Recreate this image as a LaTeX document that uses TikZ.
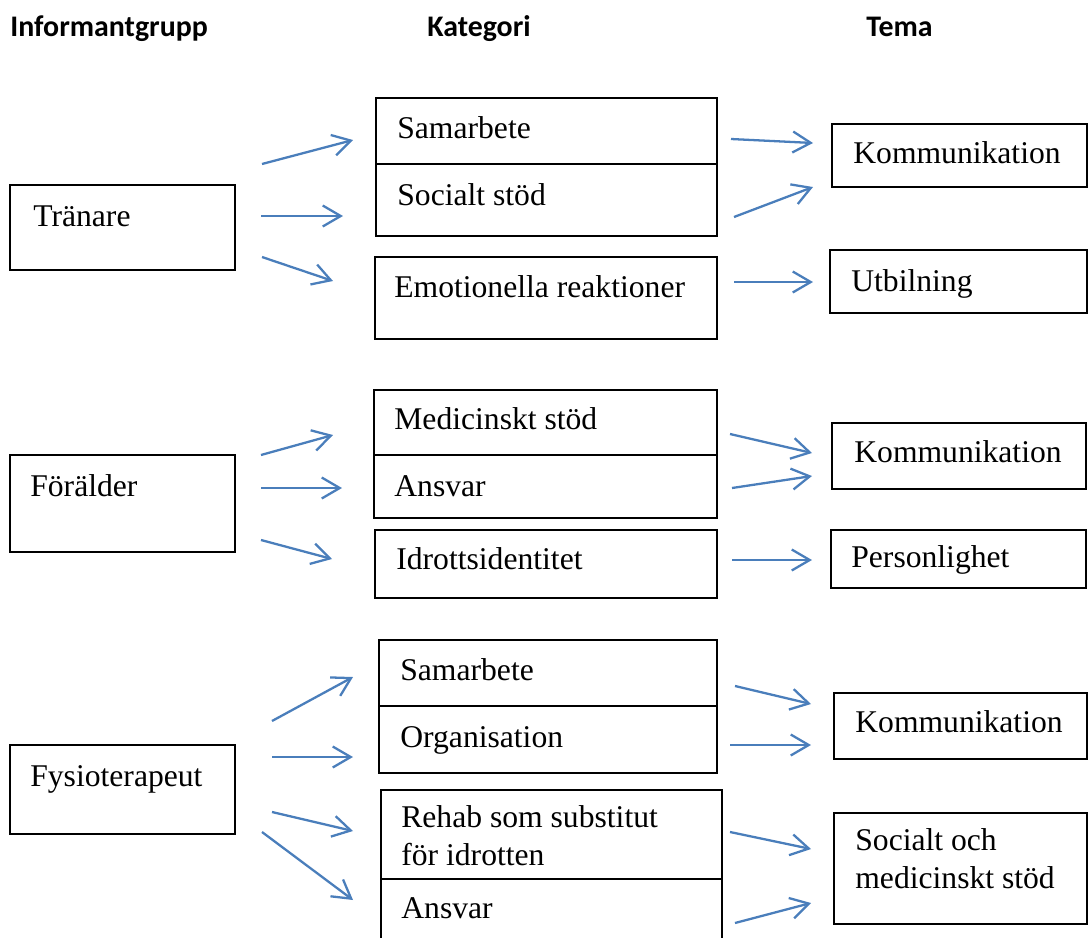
\documentclass[tikz,border=0pt]{standalone}
\usepackage{fontspec}
\setmainfont{Liberation Serif}
\newfontfamily\headfont{Carlito}
\usetikzlibrary{arrows.meta}
\definecolor{arrowblue}{RGB}{74,126,187}
\tikzset{%
	box/.style   = {draw, rectangle, line width=1.1pt, anchor=north west, inner sep=0pt}, % frame
	txt/.style   = {anchor=base west, inner sep=0pt, align=left, font=\fontsize{18}{21.5}\selectfont}, % text in frame
	head/.style  = {anchor=base west, inner sep=0pt, font=\headfont\bfseries\fontsize{17}{20}\selectfont}, % column heading
	arrow/.style = {arrowblue, line width=1.3pt, -{Straight Barb[length=0.36cm,width=0.42cm]}},
}

\begin{document}
\begin{tikzpicture}[x=0.02cm,y=-0.02cm]
	\clip (0,0) rectangle (1089,937);

	\node [head] (hinf) at (10,36) {Informantgrupp};
	\node [head] (hkat) at (427,36) {Kategori};
	\node [head] (htema) at (866,36) {Tema};

	% Tränare
	\node [box, minimum width=4.5cm, minimum height=1.7cm] (tr) at (9,184) {};
	\node [txt] (trt) at (33,226) {Tränare};
	\node [box, minimum width=6.82cm, minimum height=1.32cm] (tr1) at (375,97) {};
	\node [txt] (tr1t) at (397,138) {Samarbete};
	\node [box, minimum width=6.82cm, minimum height=1.44cm] (tr2) at (375,163) {};
	\node [txt] (tr2t) at (397,205) {Socialt stöd};
	\node [box, minimum width=6.84cm, minimum height=1.64cm] (tr3) at (374,256) {};
	\node [txt] (tr3t) at (394,297) {Emotionella reaktioner};
	\node [box, minimum width=5.1cm, minimum height=1.26cm] (trk) at (831,123) {};
	\node [txt] (trkt) at (853,163) {Kommunikation};
	\node [box, minimum width=5.14cm, minimum height=1.26cm] (tru) at (829,249) {};
	\node [txt] (trut) at (851,291) {Utbilning};

	% Förälder
	\node [box, minimum width=4.5cm, minimum height=1.94cm] (fo) at (9,454) {};
	\node [txt] (fot) at (30,496) {Förälder};
	\node [box, minimum width=6.86cm, minimum height=1.3cm] (fo1) at (373,389) {};
	\node [txt] (fo1t) at (394,429) {Medicinskt stöd};
	\node [box, minimum width=6.86cm, minimum height=1.26cm] (fo2) at (373,454) {};
	\node [txt] (fo2t) at (394,496) {Ansvar};
	\node [box, minimum width=6.84cm, minimum height=1.36cm] (fo3) at (374,529) {};
	\node [txt] (fo3t) at (396,569) {Idrottsidentitet};
	\node [box, minimum width=5.08cm, minimum height=1.32cm] (fok) at (831,422) {};
	\node [txt] (fokt) at (854,462) {Kommunikation};
	\node [box, minimum width=5.1cm, minimum height=1.16cm] (fop) at (830,529) {};
	\node [txt] (fopt) at (851,567) {Personlighet};

	% Fysioterapeut
	\node [box, minimum width=4.5cm, minimum height=1.78cm] (fy) at (9,744) {};
	\node [txt] (fyt) at (30,786) {Fysioterapeut};
	\node [box, minimum width=6.76cm, minimum height=1.32cm] (fy1) at (378,639) {};
	\node [txt] (fy1t) at (400,680) {Samarbete};
	\node [box, minimum width=6.76cm, minimum height=1.34cm] (fy2) at (378,705) {};
	\node [txt] (fy2t) at (400,747) {Organisation};
	\node [box, minimum width=6.82cm, minimum height=1.78cm] (fy3) at (380,789) {};
	\node [txt] (fy3t) at (401,865) {Rehab som substitut\\för idrotten};
	\node [box, minimum width=6.82cm, minimum height=1.64cm] (fy4) at (380,878) {};
	\node [txt] (fy4t) at (401,918) {Ansvar};
	\node [box, minimum width=5.06cm, minimum height=1.32cm] (fyk) at (833,692) {};
	\node [txt] (fykt) at (855,732) {Kommunikation};
	\node [box, minimum width=5.06cm, minimum height=2.22cm] (fys) at (833,812) {};
	\node [txt] (fyst) at (855,888) {Socialt och\\medicinskt stöd};

	% arrow ends
	\coordinate (a1) at (262,164); \coordinate (b1) at (353,140);
	\coordinate (a2) at (261,216); \coordinate (b2) at (343,216);
	\coordinate (a3) at (262,257); \coordinate (b3) at (333,281);
	\coordinate (c1) at (731,139); \coordinate (d1) at (813,143);
	\coordinate (c2) at (734,217); \coordinate (d2) at (813,187);
	\coordinate (c3) at (734,282); \coordinate (d3) at (813,282);

	\coordinate (a4) at (261,455); \coordinate (b4) at (333,435);
	\coordinate (a5) at (261,488); \coordinate (b5) at (342,488);
	\coordinate (a6) at (261,540); \coordinate (b6) at (332,559);
	\coordinate (c4) at (730,434); \coordinate (d4) at (812,453);
	\coordinate (c5) at (732,488); \coordinate (d5) at (812,476);
	\coordinate (c6) at (732,560); \coordinate (d6) at (812,560);

	\coordinate (a7) at (272,721); \coordinate (b7) at (353,677);
	\coordinate (a8) at (272,757); \coordinate (b8) at (353,757);
	\coordinate (a9) at (272,812); \coordinate (b9) at (353,831);
	\coordinate (a10) at (262,832); \coordinate (b10) at (353,900);
	\coordinate (c7) at (735,686); \coordinate (d7) at (811,704);
	\coordinate (c8) at (730,745); \coordinate (d8) at (811,745);
	\coordinate (c9) at (730,832); \coordinate (d9) at (811,849);
	\coordinate (c10) at (735,923); \coordinate (d10) at (811,903);

	\draw[arrow] (a1) -- (b1);
	\draw[arrow] (a2) -- (b2);
	\draw[arrow] (a3) -- (b3);
	\draw[arrow] (c1) -- (d1);
	\draw[arrow] (c2) -- (d2);
	\draw[arrow] (c3) -- (d3);
	\draw[arrow] (a4) -- (b4);
	\draw[arrow] (a5) -- (b5);
	\draw[arrow] (a6) -- (b6);
	\draw[arrow] (c4) -- (d4);
	\draw[arrow] (c5) -- (d5);
	\draw[arrow] (c6) -- (d6);
	\draw[arrow] (a7) -- (b7);
	\draw[arrow] (a8) -- (b8);
	\draw[arrow] (a9) -- (b9);
	\draw[arrow] (a10) -- (b10);
	\draw[arrow] (c7) -- (d7);
	\draw[arrow] (c8) -- (d8);
	\draw[arrow] (c9) -- (d9);
	\draw[arrow] (c10) -- (d10);
\end{tikzpicture}
\end{document}
